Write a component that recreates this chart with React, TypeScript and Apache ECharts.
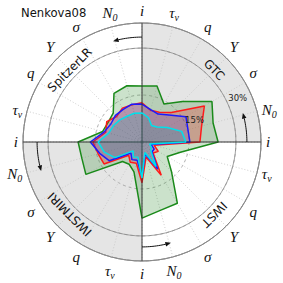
import React, { useEffect, useRef } from 'react';
import * as echarts from 'echarts';

// ---- data ----
const chartTitle = 'Nenkova08';
const paramLabels = ['i', 'τν', 'q', 'Y', 'σ', 'N0'];
const spokeLabels = [...paramLabels, ...paramLabels, ...paramLabels, ...paramLabels];
const quadrantNames = ['GTC', 'IWST', 'IWSTMIRI', 'SpitzerLR'];
const radialTicks = [15, 30];
const seriesNames = ['green', 'red', 'blue', 'cyan'];
const greenValues = [17.9, 18.5, 14.0, 18.3, 25.8, 23.5, 24.3, 12.7, 9.3, 13.3, 22.6, 22.6, 24.3, 9.9, 8.2, 8.8, 20.7, 19.9, 20.4, 13.0, 12.5, 13.0, 17.9, 18.6];
const redValues = [12.5, 10.5, 11.0, 13.3, 23.0, 19.7, 18.5, 4.0, 6.0, 5.0, 12.3, 5.0, 13.0, 7.0, 7.5, 6.0, 14.0, 14.5, 15.7, 12.0, 13.0, 11.5, 12.5, 12.3];
const blueValues = [12.1, 10.7, 10.3, 12.2, 16.2, 15.2, 15.3, 3.0, 4.5, 4.5, 10.0, 4.0, 11.0, 6.0, 6.5, 5.0, 12.0, 14.0, 16.5, 12.5, 11.5, 12.0, 12.0, 12.5];
const cyanValues = [9.3, 8.0, 6.1, 6.8, 9.3, 13.1, 14.0, 2.5, 3.5, 4.0, 9.0, 3.5, 11.5, 5.0, 5.5, 4.0, 10.0, 12.5, 14.0, 11.0, 10.5, 10.0, 9.5, 9.5];

// ---- styling ----
const R_MAX = 38;
const CENTER = [142, 142];
const RADIUS = 119;
const STEP = 360 / spokeLabels.length;
const lineColors = ['#1a8a1a', '#ff1a1a', '#1a1aff', '#00e0ea'];
const fillColors = ['#2e8b2e', '#ff0000', '#0000ff', '#209c9c'];
const fillOpacity = [0.25, 0.22, 0.15, 0.22];
const serif = 'Liberation Serif';

function fmtLabel(s: string): string {
  if (s === 'τν') return '{m|τ}{s|ν}';
  if (s === 'N0') return '{m|N}{s|0}';
  return '{m|' + s + '}';
}

function closeLoop(vals: number[]) {
  const d = vals.map((v, k) => [v, k * STEP]);
  d.push([vals[0], 360]);
  return d;
}

export default function App() {
  const ref = useRef<HTMLDivElement>(null);
  useEffect(() => {
    if (!ref.current) return;
    const chart = echarts.init(ref.current, null, { renderer: 'svg' });
    const allValues = [greenValues, redValues, blueValues, cyanValues];
    const option: any = {
      animation: false,
      backgroundColor: '#ffffff',
      title: {
        text: chartTitle,
        left: 21,
        top: 7,
        padding: 0,
        textStyle: { fontFamily: 'DejaVu Sans', fontSize: 11.6, fontWeight: 'normal', color: '#111' },
      },
      polar: [0, 1, 2].map(() => ({ center: CENTER, radius: RADIUS })),
      angleAxis: [
        {
          polarIndex: 0, type: 'value', min: 0, max: 360, interval: 90, startAngle: 90, clockwise: true,
          axisLine: { show: true, lineStyle: { color: '#777', width: 1 } },
          axisTick: { show: false }, axisLabel: { show: false }, splitLine: { show: false },
          splitArea: { show: true, areaStyle: { color: ['#e5e5e5', '#ffffff'] } },
          z: 0,
        },
        {
          polarIndex: 1, type: 'value', min: 0, max: 360, interval: STEP, startAngle: 90, clockwise: true,
          axisLine: { show: false }, axisTick: { show: false },
          axisLabel: {
            show: true, margin: 5,
            formatter: (v: number) => fmtLabel(spokeLabels[Math.round(v / STEP) % spokeLabels.length]),
            rich: {
              m: { fontFamily: serif, fontStyle: 'italic', fontSize: 15, color: '#111' },
              s: { fontFamily: serif, fontStyle: 'italic', fontSize: 10, color: '#111', padding: [9, 0, 0, 0] },
            },
          },
          splitLine: { show: true, lineStyle: { color: '#c4c4c4', type: [1, 2], width: 0.8 } },
          z: 1,
        },
        {
          polarIndex: 2, type: 'value', min: 0, max: 360, interval: 90, startAngle: 90, clockwise: true,
          axisLine: { show: false }, axisTick: { show: false }, axisLabel: { show: false },
          splitLine: { show: true, lineStyle: { color: '#333', width: 1 } },
          z: 5,
        },
      ],
      radiusAxis: [
        { polarIndex: 0, min: 0, max: R_MAX, axisLine: { show: false }, axisTick: { show: false }, axisLabel: { show: false }, splitLine: { show: false } },
        {
          polarIndex: 1, min: 0, max: R_MAX, interval: 15, axisLine: { show: false }, axisTick: { show: false }, axisLabel: { show: false },
          splitLine: { show: true, lineStyle: { color: '#999', type: [3, 3], width: 0.8 } }, z: 1,
        },
        {
          polarIndex: 2, min: 0, max: R_MAX, interval: 30, axisLine: { show: false }, axisTick: { show: false }, axisLabel: { show: false },
          splitLine: { show: true, lineStyle: { color: '#8a8a8a', width: 0.8 } }, z: 1,
        },
      ],
      series: allValues.map((vals, i) => ({
        name: seriesNames[i],
        type: 'line',
        coordinateSystem: 'polar',
        polarIndex: 0,
        symbol: 'none',
        data: closeLoop(vals),
        lineStyle: { color: lineColors[i], width: 1.5 },
        areaStyle: { color: fillColors[i], opacity: fillOpacity[i] },
        z: 2 + i,
      })),
    };
    chart.setOption(option);

    const toPx = (r: number, a: number): number[] => {
      let p: any = null;
      try { p = chart.convertToPixel({ seriesIndex: 0 } as any, [r, a]); } catch (e) { p = null; }
      if (!p || isNaN(p[0])) {
        const rr = (r / R_MAX) * RADIUS;
        const th = ((90 - a) * Math.PI) / 180;
        p = [CENTER[0] + rr * Math.cos(th), CENTER[1] - rr * Math.sin(th)];
      }
      return p;
    };

    const graphics: any[] = [];
    quadrantNames.forEach((name, q) => {
      const a = 45 + q * 90;
      const p = toPx(32.6, a);
      const mathDeg = 90 - a;
      graphics.push({
        type: 'text', x: p[0], y: p[1], rotation: ((mathDeg - 90) * Math.PI) / 180, z: 10,
        style: { text: name, fontFamily: 'DejaVu Sans', fontSize: 12, fill: '#111', align: 'center', verticalAlign: 'middle' },
      });
    });
    radialTicks.forEach((t) => {
      const p = toPx(t * 1.03, 63);
      graphics.push({
        type: 'text', x: p[0], y: p[1], z: 10,
        style: { text: t + '%', fontFamily: 'DejaVu Sans', fontSize: 8.5, fill: '#222', align: 'left', verticalAlign: 'middle' },
      });
    });
    const arrowR = 33.5;
    [0, 90, 180, 270].forEach((a0) => {
      const pts: number[][] = [];
      const span = 16;
      for (let s = 0; s <= 16; s++) pts.push(toPx(arrowR, a0 - (span * s) / 16));
      graphics.push({ type: 'polyline', z: 10, shape: { points: pts.slice(0, 15) }, style: { stroke: '#111', lineWidth: 1, fill: 'none' } });
      const tip = toPx(arrowR, a0 - span);
      const back = toPx(arrowR, a0 - span + 3.2);
      const dx = tip[0] - back[0], dy = tip[1] - back[1];
      const L = Math.hypot(dx, dy) || 1;
      const ux = dx / L, uy = dy / L;
      const nx = -uy, ny = ux;
      const bx = tip[0] - ux * 5.5, by = tip[1] - uy * 5.5;
      graphics.push({
        type: 'polygon', z: 10,
        shape: { points: [[tip[0], tip[1]], [bx + nx * 2.3, by + ny * 2.3], [bx - nx * 2.3, by - ny * 2.3]] },
        style: { fill: '#111' },
      });
    });
    chart.setOption({ graphic: graphics });
    return () => chart.dispose();
  }, []);
  return <div ref={ref} style={{ position: 'absolute', left: 0, top: 0, width: 283, height: 283 }} />;
}
